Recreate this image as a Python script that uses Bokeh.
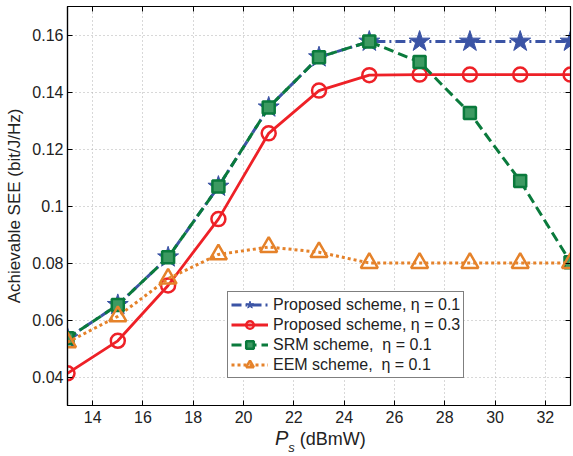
from bokeh.plotting import figure
from bokeh.models import (Legend, LegendItem, FixedTicker, CustomJSTickFormatter,
                          LinearAxis, Range1d, Div)
from bokeh.layouts import column
from bokeh.embed import file_html
from bokeh.resources import INLINE

# ---- data ----
ps = [13, 15, 17, 19, 21, 23, 25, 27, 29, 31, 33]
proposed_01 = [0.0536, 0.0653, 0.0820, 0.1068, 0.1346, 0.1522, 0.1577, 0.1577, 0.1577, 0.1577, 0.1577]
proposed_03 = [0.0413, 0.0527, 0.0721, 0.0954, 0.1255, 0.1405, 0.1459, 0.1461, 0.1461, 0.1461, 0.1461]
srm_01 = [0.0536, 0.0653, 0.0820, 0.1068, 0.1346, 0.1522, 0.1577, 0.1505, 0.1326, 0.1088, 0.0803]
eem_01 = [0.0522, 0.0613, 0.0745, 0.0830, 0.0856, 0.0838, 0.0800, 0.0800, 0.0800, 0.0800, 0.0800]

labels = ["Proposed scheme, \u03b7 = 0.1", "Proposed scheme, \u03b7 = 0.3",
          "SRM scheme,  \u03b7 = 0.1", "EEM scheme,  \u03b7 = 0.1"]
x_ticks = [14, 16, 18, 20, 22, 24, 26, 28, 30, 32]
y_ticks = [0.04, 0.06, 0.08, 0.10, 0.12, 0.14, 0.16]

BLUE = "#3B54A5"
RED = "#EE2127"
GREEN = "#0A7A3C"
ORANGE = "#E5822A"
FONT = "Liberation Sans"
TXT = "#222222"

p = figure(width=572, height=428, output_backend="svg", toolbar_location=None,
           x_range=Range1d(13, 33), y_range=Range1d(0.03, 0.17),
           min_border_left=67, min_border_right=2, min_border_top=6, min_border_bottom=23)

p.outline_line_color = "black"
p.outline_line_width = 1.2
p.background_fill_color = "white"
p.border_fill_color = "white"

for ax in (p.xaxis, p.yaxis):
    ax.axis_line_color = "black"
    ax.axis_line_width = 1.2
    ax.major_tick_in = 5
    ax.major_tick_out = 0
    ax.minor_tick_line_color = None
    ax.major_label_text_font = FONT
    ax.major_label_text_font_size = "16px"
    ax.major_label_text_color = TXT

p.xaxis.ticker = FixedTicker(ticks=x_ticks)
p.yaxis.ticker = FixedTicker(ticks=y_ticks)
p.yaxis.formatter = CustomJSTickFormatter(code="return parseFloat(tick.toFixed(3)).toString();")
p.xaxis.major_label_standoff = 5
p.yaxis.major_label_standoff = 4

p.yaxis.axis_label = "Achievable SEE (bit/J/Hz)"
p.yaxis.axis_label_text_font = FONT
p.yaxis.axis_label_text_font_size = "17px"
p.yaxis.axis_label_text_font_style = "normal"
p.yaxis.axis_label_text_color = TXT
p.yaxis.axis_label_standoff = 5

# ticks on top and right (no labels)
blank = CustomJSTickFormatter(code="return '';")
top = LinearAxis(ticker=FixedTicker(ticks=x_ticks), major_tick_in=5, major_tick_out=0,
                 formatter=blank, minor_tick_line_color=None,
                 axis_line_color="black", major_label_standoff=0)
right = LinearAxis(ticker=FixedTicker(ticks=y_ticks), major_tick_in=5, major_tick_out=0,
                   formatter=blank, minor_tick_line_color=None,
                   axis_line_color="black", major_label_standoff=0)
p.add_layout(top, "above")
p.add_layout(right, "right")

p.grid.grid_line_color = "#b0b0b0"
p.grid.grid_line_dash = "1 3"
p.grid.grid_line_width = 1

# series
l1 = p.line(ps, proposed_01, color=BLUE, line_width=3, line_dash="10 4 2 4")
m1 = p.scatter(ps, proposed_01, marker="star", size=22, fill_color=BLUE, line_color=BLUE)
l2 = p.line(ps, proposed_03, color=RED, line_width=2.8)
m2 = p.scatter(ps, proposed_03, marker="circle", size=14, fill_color=None, line_color=RED, line_width=2.5)
l3 = p.line(ps, srm_01, color=GREEN, line_width=3, line_dash="10 5")
m3 = p.scatter(ps, srm_01, marker="square", size=12, fill_color="#3d9a62", line_color=GREEN, line_width=2.5)
l4 = p.line(ps, eem_01, color=ORANGE, line_width=3, line_dash="3 3")
m4 = p.scatter(ps, eem_01, marker="triangle", size=17, fill_color=None, line_color=ORANGE, line_width=2.5)

legend = Legend(items=[LegendItem(label=labels[0], renderers=[l1, m1]),
                       LegendItem(label=labels[1], renderers=[l2, m2]),
                       LegendItem(label=labels[2], renderers=[l3, m3]),
                       LegendItem(label=labels[3], renderers=[l4, m4])],
                location=(160, 27))
legend.border_line_color = "black"
legend.border_line_width = 1.2
legend.background_fill_alpha = 1
legend.label_text_font = FONT
legend.label_text_font_size = "16px"
legend.label_text_color = TXT
legend.label_height = 19
legend.glyph_height = 19
legend.glyph_width = 37
legend.label_standoff = 5
legend.spacing = 1
legend.padding = 3
legend.margin = 0
p.add_layout(legend, "center")

xlabel = Div(text=("<div style=\"padding-left:275px; font-family:'Liberation Sans'; "
                   "font-size:18px; color:#222222; white-space:nowrap; line-height:20px;\">"
                   "<i style=\"font-size:20px\">P</i>"
                   "<sub style=\"font-size:13px; position:relative; top:2px\"><i>s</i></sub>"
                   " (dBmW)</div>"),
             width=572, height=27, margin=0)

layout = column(p, xlabel, spacing=0)
open("out.html", "w").write(file_html(layout, INLINE))
